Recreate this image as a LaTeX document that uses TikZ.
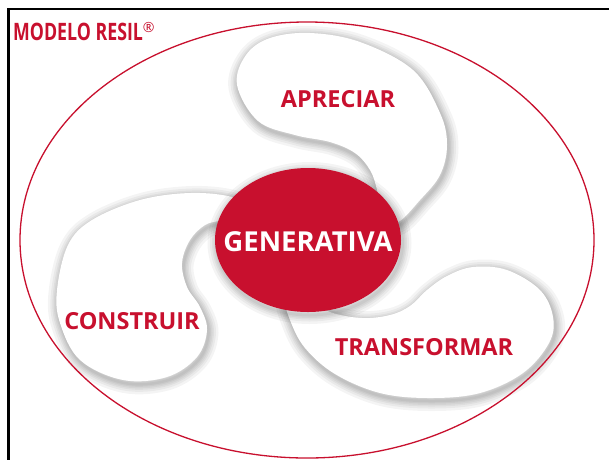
\documentclass[tikz,border=0pt]{standalone}
\usepackage{fontspec}
\setmainfont{Open Sans}
\definecolor{resred}{RGB}{200,16,46}
\tikzset{
  blobA/.style={insert path={plot[smooth cycle, tension=0.6] coordinates {
    (237,85) (246,55) (270,38) (310,33) (360,42) (413,70) (440,113) (447,145)
    (440,175) (420,200) (398,222) (382,218) (377,190) (370,170) (355,153)
    (330,142) (295,135) (258,121)}}},
  blobB/.style={insert path={plot[smooth cycle, tension=0.6] coordinates {
    (57,290) (68,245) (92,220) (140,200) (190,193) (232,197) (255,210)
    (222,220) (205,225) (190,240) (182,263) (187,287) (200,307) (207,330)
    (197,357) (167,377) (123,380) (80,360) (60,323)}}},
  blobC/.style={insert path={plot[smooth cycle, tension=0.6] coordinates {
    (284,295) (290,320) (305,348) (335,374) (380,393) (430,398) (480,393)
    (523,373) (549,343) (553,317) (540,290) (507,270) (473,267) (447,276)
    (427,290) (410,306) (390,315) (362,318) (330,312) (300,296)}}},
  lab/.style={text=resred, font=\bfseries\fontsize{23.5}{23.5}\selectfont},
  shad/.style={black, opacity=0.045, line join=round, shift={(1.5,3)}},
}
\begin{document}
\begin{tikzpicture}[x=1pt, y=-1pt]
\useasboundingbox (0,0) rectangle (609,459);
\fill[white] (0,0) rectangle (609,459);
% frame
\draw[black, line width=2.2pt] (8.5,460) -- (8.5,9) -- (610,9);
% shadows
\foreach \w in {20,15,11,8,5,2.5} {
  \draw[shad, line width=\w pt, blobA];
  \draw[shad, line width=\w pt, blobB];
  \draw[shad, line width=\w pt, blobC];
}
\fill[white, blobA];
\fill[white, blobB];
\fill[white, blobC];
% outer ellipse
\draw[resred, line width=1.3pt] (307,240) ellipse [x radius=287, y radius=218];
% centre shadow
\foreach \w in {18,13,9,6,3} {
  \draw[shad, line width=\w pt] (308,240) ellipse [x radius=93, y radius=72];
}
\fill[resred] (308,240) ellipse [x radius=93, y radius=72];
\node[text=white, font=\bfseries\fontsize{27.5}{27.5}\selectfont] (gen) at (308,242) {GENERATIVA};
\node[lab] (apr) at (338,99) {APRECIAR};
\node[lab] (con) at (132,321) {CONSTRUIR};
\node[lab] (tra) at (424,347) {TRANSFORMAR};
\node[anchor=west, inner sep=0pt, text=resred, font=\bfseries\fontsize{24}{24}\selectfont] (title) at (13,31.5)
  {\scalebox{0.74}[1]{MODELO RESIL}\raisebox{0.36em}{\fontsize{14}{14}\selectfont\normalfont ®}};
\end{tikzpicture}
\end{document}
